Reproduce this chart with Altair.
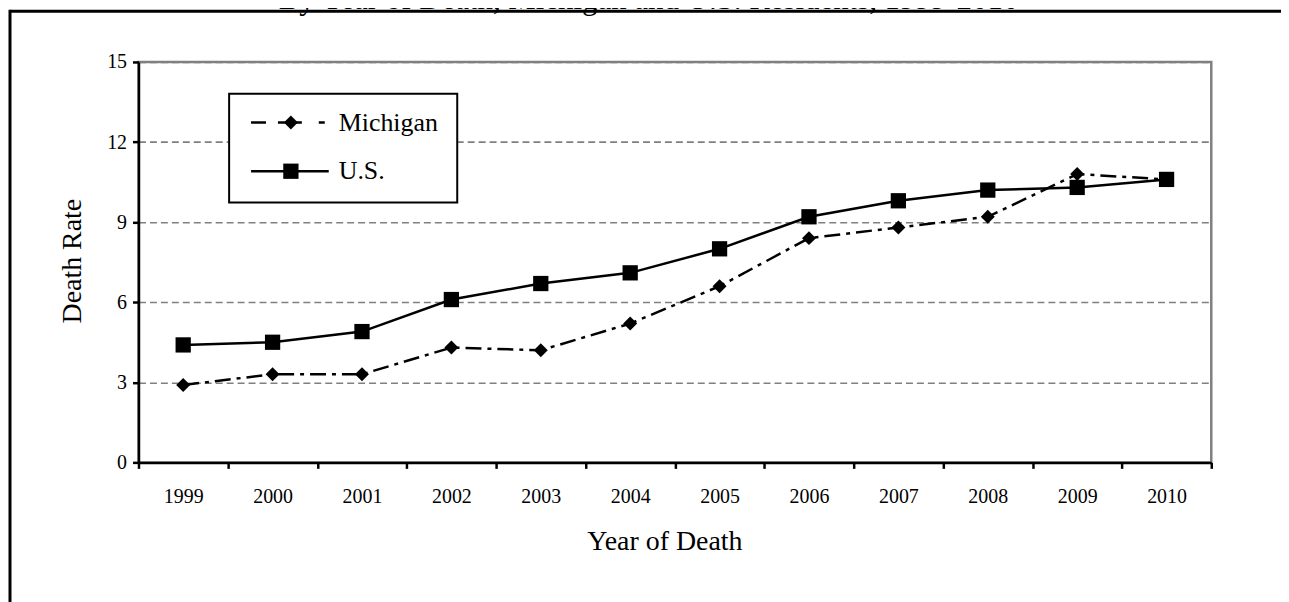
import altair as alt
import pandas as pd

# ---- data ----
years = [str(y) for y in range(1999, 2011)]
michigan = [2.9, 3.3, 3.3, 4.3, 4.2, 5.2, 6.6, 8.4, 8.8, 9.2, 10.8, 10.6]
us = [4.4, 4.5, 4.9, 6.1, 6.7, 7.1, 8.0, 9.2, 9.8, 10.2, 10.3, 10.6]
series_names = ["Michigan", "U.S."]
y_ticks = [0, 3, 6, 9, 12, 15]
title_text = "By Year of Death, Michigan and U.S. Residents, 1999-2010"
x_title = "Year of Death"
y_title = "Death Rate"

FONT = "Liberation Serif"
MI_DASH = [16, 6, 4, 6]

df = pd.DataFrame({
    "year": years * 2,
    "rate": michigan + us,
    "series": [series_names[0]] * len(years) + [series_names[1]] * len(years),
})
df_mi = df[df.series == series_names[0]]
df_us = df[df.series == series_names[1]]

x_enc = alt.X(
    "year:O",
    sort=years,
    scale=alt.Scale(type="band", paddingInner=0, paddingOuter=0),
    axis=alt.Axis(
        title=x_title, tickBand="extent", labelAngle=0, grid=False,
        labelBaseline="alphabetic", labelPadding=34,
        titleX=528, titleY=87, titleAlign="center", titleBaseline="alphabetic",
    ),
)
y_enc = alt.Y(
    "rate:Q",
    scale=alt.Scale(domain=[0, 15], nice=False, zero=True),
    axis=alt.Axis(
        values=y_ticks, title=y_title, grid=True,
        gridColor="#808080", gridDash=[7, 4], gridWidth=1.6,
        labelPadding=6, labelBaseline="middle",
        titleAngle=270, titleX=-58, titleY=199.5,
        titleAlign="center", titleBaseline="alphabetic",
    ),
)

mi_line = alt.Chart(df_mi).mark_line(
    color="black", strokeWidth=2.5, strokeDash=MI_DASH
).encode(x=x_enc, y=y_enc)
mi_pts = alt.Chart(df_mi).mark_point(
    shape="diamond", filled=True, size=196, color="black", opacity=1, strokeWidth=0
).encode(x=x_enc, y=y_enc)
us_line = alt.Chart(df_us).mark_line(
    color="black", strokeWidth=2.5
).encode(x=x_enc, y=y_enc)
us_pts = alt.Chart(df_us).mark_point(
    shape="square", filled=True, size=235, color="black", opacity=1, strokeWidth=0
).encode(x=x_enc, y=y_enc)

one = pd.DataFrame({"a": [0]})

# legend (drawn by hand: line + marker symbols like the original)
leg_box = alt.Chart(one).mark_rect(
    fill="white", stroke="black", strokeWidth=2
).encode(x=alt.value(91), x2=alt.value(320), y=alt.value(32), y2=alt.value(141))

leg_mi_line = alt.Chart(one).mark_rule(
    color="black", strokeWidth=2.5, strokeDash=[15, 12, 24, 17, 6]
).encode(x=alt.value(113), x2=alt.value(191), y=alt.value(60.7))
leg_mi_pt = alt.Chart(one).mark_point(
    shape="diamond", filled=True, size=196, color="black", opacity=1, strokeWidth=0
).encode(x=alt.value(153), y=alt.value(60.7))
leg_mi_txt = alt.Chart(pd.DataFrame({"t": [series_names[0]]})).mark_text(
    font=FONT, fontSize=26, align="left", baseline="alphabetic", color="black"
).encode(text="t:N", x=alt.value(201), y=alt.value(69))

leg_us_line = alt.Chart(one).mark_rule(
    color="black", strokeWidth=2.5
).encode(x=alt.value(113), x2=alt.value(191), y=alt.value(109.7))
leg_us_pt = alt.Chart(one).mark_point(
    shape="square", filled=True, size=235, color="black", opacity=1, strokeWidth=0
).encode(x=alt.value(153), y=alt.value(109.7))
leg_us_txt = alt.Chart(pd.DataFrame({"t": [series_names[1]]})).mark_text(
    font=FONT, fontSize=26, align="left", baseline="alphabetic", color="black"
).encode(text="t:N", x=alt.value(201), y=alt.value(118))

# outer frame and the (cropped) title above it
frame_top = alt.Chart(one).mark_rule(color="black", strokeWidth=3).encode(
    x=alt.value(-129), x2=alt.value(1300), y=alt.value(-51)
)
frame_left = alt.Chart(one).mark_rule(color="black", strokeWidth=3).encode(
    x=alt.value(-129), y=alt.value(-52.5), y2=alt.value(700)
)
title = alt.Chart(pd.DataFrame({"t": [title_text]})).mark_text(
    font=FONT, fontSize=31, align="center", baseline="alphabetic", color="black"
).encode(text="t:N", x=alt.value(512), y=alt.value(-53.5))

chart = alt.layer(
    mi_line, mi_pts, us_line, us_pts,
    leg_box, leg_mi_line, leg_mi_pt, leg_mi_txt, leg_us_line, leg_us_pt, leg_us_txt,
    frame_top, frame_left, title,
).properties(
    width=1077, height=402,
    autosize="none",
    padding={"left": 131, "top": 53, "right": 70, "bottom": 139},
    background="white",
).configure_view(
    stroke="#808080", strokeWidth=2.5
).configure_axis(
    labelFont=FONT, titleFont=FONT, labelColor="black", titleColor="black",
    labelFontSize=20, titleFontSize=28, titleFontWeight="normal",
    domainColor="black", domainWidth=2.5, tickColor="black", tickWidth=2.5,
    tickSize=6,
)

chart.save("out.html", embed_options={"renderer": "svg", "actions": False})
